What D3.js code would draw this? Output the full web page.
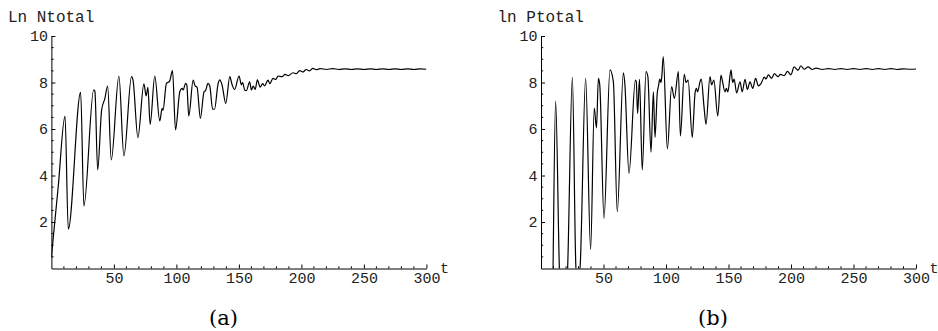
<!DOCTYPE html>
<html>
<head>
<meta charset="utf-8">
<script src="https://cdn.jsdelivr.net/npm/d3@7/dist/d3.min.js"></script>
<style>
  html, body { margin: 0; padding: 0; background: #fff; }
  svg { display: block; }
</style>
</head>
<body>
<svg id="chart" width="938" height="331"></svg>
<script>
// ---- Data ----
const xTickLabels = [50, 100, 150, 200, 250, 300];
const yTickLabels = [2, 4, 6, 8, 10];
const panelTitles = ["Ln Ntotal", "ln Ptotal"];
const panelLetters = ["(a)", "(b)"];

// Panel (a): ln N_total  — time and value of turning points
const tN = [0, 5.5, 10.9, 13.5, 23.4, 26, 33.8, 34.8, 37, 40.2, 42.8, 45, 47.9, 54, 58, 64.1, 65.3, 69.2, 74, 75.8, 77.2,
  79, 82.7, 86.7, 88.6, 89.3, 92, 94.5, 96.9, 99.3, 102.7, 104.5, 105.5, 107.3, 108.3, 109.9, 113.4, 115, 116.5,
  119.2, 122.1, 123.3, 125.3, 126.7, 129, 130.5, 133.3, 134.7, 136.5, 139.5, 142.7, 144.6, 146.6, 150.1, 152, 153,
  154.6, 156, 158.6, 160, 161.5, 163, 164.8, 167, 169, 170.5, 173.3, 174.7, 177.3, 179.5, 181.3, 184.5, 186.9,
  189.5, 193.3, 196, 198.6, 201.2, 203.9, 206.5, 209.2, 212, 215, 220, 225, 230, 235, 240, 245, 250, 255, 260,
  265, 270, 275, 280, 285, 290, 295, 300];
const vN = [0.5, 3.55, 6.56, 1.69, 7.58, 2.69, 7.68, 7.62, 4.24, 6.82, 7.32, 7.85, 4.67, 8.28, 4.84, 8.25, 8.1, 5.63, 7.94, 7.42, 7.79,
  6.2, 8.28, 6.35, 6.89, 6.8, 7.96, 8.05, 8.51, 5.96, 7.6, 7.75, 7.68, 7.96, 7.9, 6.56, 8.1, 7.85, 7.8,
  6.46, 7.6, 7.65, 7.96, 7.85, 6.85, 6.85, 7.93, 8.11, 7.9, 7.1, 8.25, 7.9, 7.7, 8.28, 7.9, 8.0,
  7.68, 7.65, 8.03, 7.68, 7.85, 7.7, 8.11, 7.8, 7.95, 7.85, 8.1, 7.95, 8.18, 8.13, 8.28, 8.25, 8.35,
  8.3, 8.42, 8.38, 8.51, 8.45, 8.56, 8.5, 8.61, 8.55, 8.6, 8.56, 8.6, 8.56, 8.59, 8.56, 8.59, 8.56, 8.59, 8.56,
  8.59, 8.56, 8.59, 8.56, 8.59, 8.56, 8.59, 8.57];

// Panel (b): ln P_total
const tP = [0, 8.5, 11.7, 14.7, 18, 21.3, 25.1, 28, 29.8, 31.2, 35.7, 39.7, 42.6, 44.4, 45.9, 47, 50.4, 55.2, 57.9,
  61, 65.9, 67, 70.4, 75.5, 76.2, 77.3, 78.8, 81, 84, 85.5, 88, 89.9, 91.2, 93, 94, 95, 96, 96.7, 97.8, 101.1,
  104.5, 106.7, 109.9, 111.5, 114.6, 116, 117.7, 121, 123.2, 124.3, 125.3, 127.2, 128.2, 130.4, 132, 135.2,
  136.5, 138.3, 141.4, 144, 145, 147.2, 148.3, 149.5, 152, 153.3, 154.5, 156.5, 159.2, 161, 163.2, 165.1, 167.2,
  169.4, 171.7, 173.9, 176, 178.7, 180, 181.9, 184.5, 186.7, 189.5, 191.5, 194.5, 197.2, 199.9, 202.5, 205.7,
  207.9, 210.5, 213.7, 217, 220, 225, 230, 235, 240, 245, 250, 255, 260, 265, 270, 275, 280, 285, 290, 295, 300];
const vP = [-2, -3, 7.2, 0, -3, 0, 8.22, 0, -0.4, 0, 8.18, 0.82, 6.9, 6.05, 8.18, 7.9, 2.16, 8.54, 8.03,
  2.44, 8.42, 8.0, 4.09, 8.1, 8.05, 6.67, 8.14, 4.24, 8.47, 8.25, 5.0, 7.6, 5.64, 7.55, 7.85, 8.15, 8.0, 8.3, 9.11, 5.14,
  7.82, 7.32, 8.47, 5.7, 8.35, 8.0, 8.1, 5.64, 7.53, 7.75, 7.6, 8.03, 8.15, 6.96, 6.2, 8.25,
  7.9, 8.1, 6.56, 8.32, 8.1, 7.6, 7.75, 7.6, 8.54, 8.0, 8.15, 7.55, 8.03, 7.6, 8.14, 7.7, 8.03,
  7.75, 8.18, 7.85, 7.95, 8.23, 8.15, 8.33, 8.18, 8.38, 8.25, 8.35, 8.3, 8.48, 8.33, 8.67, 8.53,
  8.72, 8.57, 8.67, 8.56, 8.62, 8.56, 8.6, 8.56, 8.6, 8.56, 8.6, 8.56, 8.6, 8.56, 8.6, 8.56, 8.6, 8.56, 8.59, 8.57, 8.58];

// ---- Drawing ----
const svg = d3.select("#chart");
const mono = "'Liberation Mono', 'DejaVu Sans Mono', monospace";
const serif = "'DejaVu Serif', 'Liberation Serif', serif";

const panels = [
  { left: 51.4, t: tN, v: vN, title: panelTitles[0], letter: panelLetters[0] },
  { left: 541,  t: tP, v: vP, title: panelTitles[1], letter: panelLetters[1] }
];
const plotTop = 36, plotBottom = 268.5, plotW = 375;

panels.forEach((p, i) => {
  const x = d3.scaleLinear().domain([0, 300]).range([p.left, p.left + plotW]);
  const y = d3.scaleLinear().domain([0, 10]).range([plotBottom, plotTop]);
  const g = svg.append("g");

  const clipId = "clip" + i;
  svg.append("defs").append("clipPath").attr("id", clipId)
    .append("rect").attr("x", x(0)).attr("y", y(10)).attr("width", plotW).attr("height", plotBottom - plotTop);

  // series line
  const n = Math.min(p.t.length, p.v.length);
  const data = d3.range(n).map(k => [p.t[k], p.v[k]]);
  const line = d3.line().x(d => x(d[0])).y(d => y(d[1])).curve(d3.curveMonotoneX);
  g.append("path").datum(data)
    .attr("d", line)
    .attr("clip-path", `url(#${clipId})`)
    .attr("fill", "none").attr("stroke", "#000").attr("stroke-width", 1.2)
    .attr("stroke-linejoin", "round");

  // x axis (ticks pointing inward/up)
  const xMinor = d3.range(10, 301, 10).filter(d => d % 50 !== 0);
  const xAxis = d3.axisBottom(x).tickValues(xTickLabels).tickSizeInner(-4).tickSizeOuter(0).tickPadding(0)
    .tickFormat(d3.format("d"));
  const xg = g.append("g").attr("transform", `translate(0,${plotBottom})`).call(xAxis);
  xg.select(".domain").attr("stroke", "#000").attr("stroke-width", 1);
  xg.selectAll(".tick line").attr("stroke", "#000");
  xg.selectAll(".tick text").attr("y", 14.5).attr("dy", 0).attr("fill", "#222")
    .style("font-family", mono).style("font-size", "15px");
  g.append("g").selectAll("line").data(xMinor).join("line")
    .attr("x1", d => x(d)).attr("x2", d => x(d)).attr("y1", plotBottom).attr("y2", plotBottom - 2.2)
    .attr("stroke", "#000").attr("stroke-width", 1);

  // y axis (ticks pointing inward/right)
  const yMinor = d3.range(0.5, 10, 0.5).filter(d => d % 2 !== 0);
  const yAxis = d3.axisLeft(y).tickValues(yTickLabels).tickSizeInner(-4).tickSizeOuter(0).tickPadding(0)
    .tickFormat(d3.format("d"));
  const yg = g.append("g").attr("transform", `translate(${x(0)},0)`).call(yAxis);
  yg.select(".domain").attr("stroke", "#000").attr("stroke-width", 1);
  yg.selectAll(".tick line").attr("stroke", "#000");
  yg.selectAll(".tick text").attr("x", -3.5).attr("dy", "0.33em").attr("fill", "#222")
    .style("font-family", mono).style("font-size", "15px");
  g.append("g").selectAll("line").data(yMinor).join("line")
    .attr("x1", x(0)).attr("x2", x(0) + 2.2).attr("y1", d => y(d)).attr("y2", d => y(d))
    .attr("stroke", "#000").attr("stroke-width", 1);

  // axis labels
  g.append("text").attr("x", x(0) - 43.5).attr("y", 21.5)
    .style("font-family", mono).style("font-size", "16px").attr("fill", "#222").text(p.title);
  g.append("text").attr("x", x(300) + 13.5).attr("y", 273)
    .style("font-family", mono).style("font-size", "15px").attr("fill", "#222").text("t");

  // panel letter
  g.append("text").attr("x", x(0) + 172).attr("y", 324.5).attr("text-anchor", "middle")
    .style("font-family", serif).style("font-size", "21px").attr("fill", "#000").text(p.letter);
});
</script>
</body>
</html>
